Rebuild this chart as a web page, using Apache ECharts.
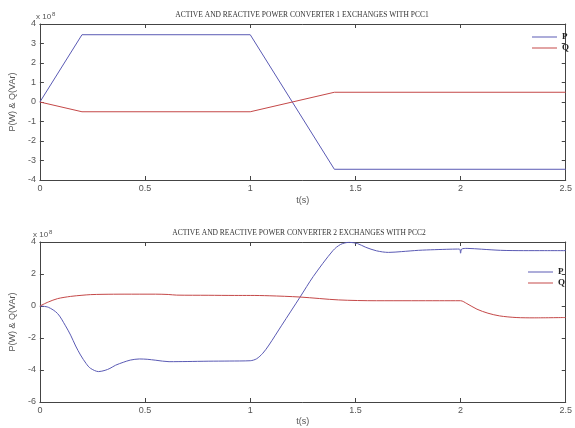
<!DOCTYPE html>
<html><head><meta charset="utf-8">
<script src="https://cdn.jsdelivr.net/npm/echarts@6/dist/echarts.min.js"></script>
<style>html,body{margin:0;padding:0;background:#fff}#c{width:575px;height:428px}</style>
</head><body><div id="c"></div>
<script>
// Top chart (Converter 1), values in x10^8
const t1P = [0, 0.2, 1.0, 1.4, 2.5];
const v1P = [0, 3.45, 3.45, -3.45, -3.45];
const t1Q = [0, 0.2, 1.0, 1.4, 2.5];
const v1Q = [0, -0.5, -0.5, 0.5, 0.5];
// Bottom chart (Converter 2), values in x10^8
const t2P = [0, 0.04, 0.084, 0.12, 0.146, 0.17, 0.193, 0.22, 0.24, 0.279, 0.31, 0.333, 0.36, 0.396, 0.43, 0.473, 0.51, 0.551, 0.614, 0.7, 0.8, 0.9, 1.0, 1.03, 1.06, 1.089, 1.15, 1.237, 1.3, 1.393, 1.43, 1.471, 1.51, 1.549, 1.6, 1.657, 1.72, 1.8, 1.875, 1.95, 1.995, 2.0, 2.005, 2.031, 2.1, 2.19, 2.3, 2.4, 2.5];
const v2P = [0, -0.08, -0.47, -1.2, -1.82, -2.5, -3.06, -3.6, -3.89, -4.1, -4.02, -3.9, -3.7, -3.52, -3.38, -3.31, -3.33, -3.39, -3.48, -3.47, -3.45, -3.44, -3.42, -3.3, -2.95, -2.44, -1.2, 0.56, 1.85, 3.46, 3.85, 3.98, 3.9, 3.67, 3.45, 3.35, 3.4, 3.48, 3.52, 3.55, 3.56, 3.3, 3.56, 3.6, 3.55, 3.48, 3.46, 3.46, 3.46];
const t2Q = [0, 0.04, 0.084, 0.146, 0.2, 0.24, 0.3, 0.4, 0.55, 0.61, 0.65, 0.8, 0.925, 1.0, 1.09, 1.237, 1.42, 1.6, 1.766, 1.9, 2.0, 2.03, 2.078, 2.13, 2.186, 2.264, 2.35, 2.5];
const v2Q = [0, 0.25, 0.46, 0.6, 0.67, 0.71, 0.73, 0.74, 0.74, 0.72, 0.68, 0.67, 0.66, 0.66, 0.64, 0.56, 0.38, 0.33, 0.33, 0.33, 0.33, 0.15, -0.2, -0.45, -0.62, -0.72, -0.74, -0.72];
const seriesNames = ['P', 'Q'];
const seriesNames2 = ['P ', 'Q '];
const titles = ['ACTIVE AND REACTIVE POWER CONVERTER 1 EXCHANGES WITH PCC1', 'ACTIVE AND REACTIVE POWER CONVERTER 2 EXCHANGES WITH PCC2'];

const zip = (a, b) => a.map((x, i) => [x, b[i]]);
const colP = '#5a5ab4', colQ = '#c44848';
const axisCol = '#444';
const lblStyle = {color: '#555', fontSize: 9, fontFamily: 'Liberation Sans, Arial, sans-serif'};

function xAxes(grid, nameGap) {
  return [
    {type: 'value', gridIndex: grid, min: 0, max: 2.5, interval: 0.5, position: 'bottom',
     axisLine: {onZero: false, lineStyle: {color: axisCol}}, axisTick: {inside: true, length: 4, lineStyle: {color: axisCol}},
     axisLabel: Object.assign({margin: 4, formatter: v => String(v)}, lblStyle), splitLine: {show: false},
     name: 't(s)', nameLocation: 'middle', nameGap: nameGap, nameTextStyle: lblStyle},
    {type: 'value', gridIndex: grid, min: 0, max: 2.5, interval: 0.5, position: 'top',
     axisLine: {onZero: false, lineStyle: {color: axisCol}}, axisTick: {inside: true, length: 4, lineStyle: {color: axisCol}},
     axisLabel: {show: false}, splitLine: {show: false}}
  ];
}
function yAxes(grid, min, max, interval, nameGap) {
  return [
    {type: 'value', gridIndex: grid, min: min, max: max, interval: interval, position: 'left',
     axisLine: {show: true, onZero: false, lineStyle: {color: axisCol}}, axisTick: {show: true, inside: true, length: 4, lineStyle: {color: axisCol}},
     axisLabel: Object.assign({margin: 4}, lblStyle), splitLine: {show: false},
     name: 'P(W) & Q(VAr)', nameLocation: 'middle', nameGap: nameGap, nameRotate: 90, nameTextStyle: lblStyle},
    {type: 'value', gridIndex: grid, min: min, max: max, interval: interval, position: 'right',
     axisLine: {show: true, onZero: false, lineStyle: {color: axisCol}}, axisTick: {show: true, inside: true, length: 4, lineStyle: {color: axisCol}},
     axisLabel: {show: false}, splitLine: {show: false}}
  ];
}
function line(name, data, xi, yi, color, smooth) {
  return {name: name, type: 'line', xAxisIndex: xi, yAxisIndex: yi, data: data, showSymbol: false,
    smooth: smooth, lineStyle: {color: color, width: 1}, itemStyle: {color: color}, animation: false};
}
const legendText = {fontFamily: 'Liberation Serif, Times New Roman, serif', fontWeight: 'bold', fontSize: 9, color: '#222', lineHeight: 10};
const titleFont = '7.5px "Liberation Serif", "Times New Roman", serif';
const legendBase = {orient: 'vertical', itemWidth: 25, itemHeight: 1, itemGap: 1, icon: 'rect',
  textStyle: legendText, selectedMode: false, padding: 0};

const chart = echarts.init(document.getElementById('c'));
chart.setOption({
  backgroundColor: '#fff',
  animation: false,
  grid: [
    {left: 35, top: 24, width: 535, height: 156},
    {left: 32, top: 242, width: 536, height: 160}
  ],
  xAxis: xAxes(0, 16).concat(xAxes(1, 15)),
  yAxis: yAxes(0, -4, 4, 1, 17).concat(yAxes(1, -6, 4, 2, 19)),
  legend: [
    Object.assign({data: seriesNames, left: 532, top: 32}, legendBase),
    Object.assign({data: seriesNames2, left: 528, top: 267, formatter: n => n.trim()}, legendBase)
  ],
  graphic: [
    {type: 'text', x: 302, y: 15, style: {text: titles[0], font: titleFont, fill: '#333', align: 'center', verticalAlign: 'middle'}},
    {type: 'text', x: 299, y: 233, style: {text: titles[1], font: titleFont, fill: '#333', align: 'center', verticalAlign: 'middle'}},
    {type: 'text', x: 36, y: 17, style: {text: 'x 10{s|8}', font: '8px "Liberation Sans", Arial, sans-serif', fill: '#555', verticalAlign: 'middle',
      rich: {s: {fontSize: 6, verticalAlign: 'top', padding: [0, 0, 6, 1], fill: '#555'}}}},
    {type: 'text', x: 33, y: 235, style: {text: 'x 10{s|8}', font: '8px "Liberation Sans", Arial, sans-serif', fill: '#555', verticalAlign: 'middle',
      rich: {s: {fontSize: 6, verticalAlign: 'top', padding: [0, 0, 6, 1], fill: '#555'}}}}
  ],
  series: [
    line(seriesNames[0], zip(t1P, v1P), 0, 0, colP, false),
    line(seriesNames[1], zip(t1Q, v1Q), 0, 0, colQ, false),
    line(seriesNames2[0], zip(t2P, v2P), 2, 2, colP, 0.3),
    line(seriesNames2[1], zip(t2Q, v2Q), 2, 2, colQ, 0.3)
  ]
});
</script></body></html>
